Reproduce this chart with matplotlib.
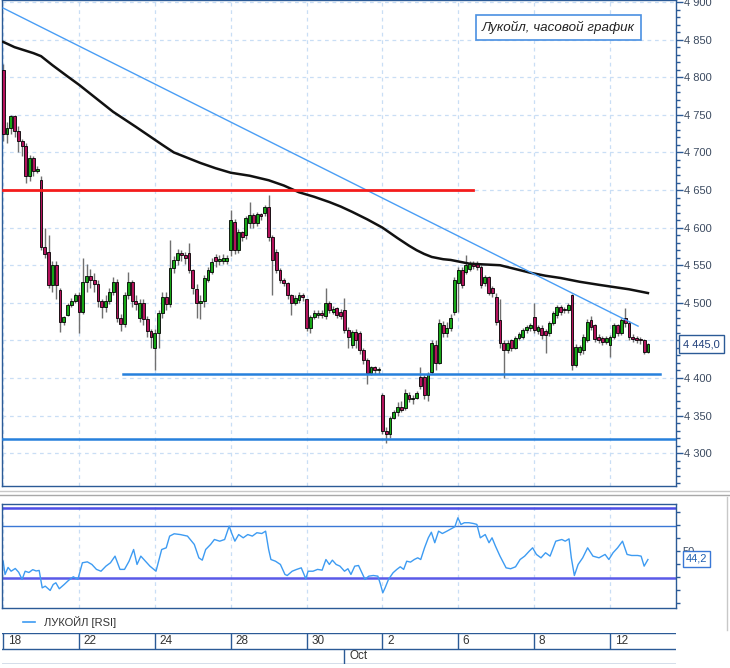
import matplotlib
matplotlib.use('Agg')
import matplotlib.pyplot as plt
from matplotlib.lines import Line2D
from matplotlib.ticker import MultipleLocator, FuncFormatter
from matplotlib.transforms import blended_transform_factory
import numpy as np

plt.rcParams['font.family'] = ['Liberation Sans', 'DejaVu Sans']

# hourly candles, 10 per trading day, index 0 = 18 Sep
opens = [4810, 4725, 4733, 4748, 4728, 4715, 4708, 4668, 4692, 4675,
         4663, 4574, 4568, 4524, 4550, 4517, 4474, 4484, 4497, 4503,
         4510, 4488, 4528, 4536, 4530, 4525, 4502, 4494, 4502, 4515,
         4528, 4480, 4472, 4510, 4528, 4502, 4480, 4500, 4478, 4462,
         4440, 4460, 4486, 4508, 4498, 4546, 4557, 4566, 4563, 4566,
         4543, 4519, 4500, 4503, 4530, 4541, 4561, 4555, 4556, 4555,
         4570, 4607, 4570, 4594, 4590, 4606, 4617, 4606, 4618, 4619,
         4627, 4587, 4568, 4543, 4530, 4526, 4510, 4500, 4504, 4510,
         4505, 4467, 4481, 4484, 4486, 4482, 4500, 4488, 4493, 4488,
         4490, 4464, 4444, 4461, 4460, 4437, 4424, 4407, 4414, 4410,
         4377, 4330, 4326, 4347, 4355, 4362, 4360, 4378, 4372, 4374,
         4402, 4401, 4377, 4408, 4444, 4420, 4470, 4460, 4467, 4488,
         4526, 4544, 4541, 4545, 4553, 4553, 4548, 4526, 4534, 4520,
         4508, 4477, 4447, 4437, 4450, 4440, 4453, 4455, 4464, 4466,
         4481, 4462, 4466, 4462, 4460, 4473, 4484, 4494, 4492, 4490,
         4510, 4417, 4434, 4437, 4450, 4477, 4470, 4455, 4453, 4448,
         4444, 4455, 4470, 4460, 4480, 4473, 4455, 4453, 4452, 4450,
         4435]
closes = [4725, 4733, 4748, 4728, 4715, 4708, 4668, 4692, 4675, 4678,
          4574, 4565, 4524, 4550, 4524, 4474, 4481, 4497, 4503, 4510,
          4488, 4528, 4536, 4530, 4525, 4502, 4494, 4502, 4515, 4528,
          4480, 4472, 4510, 4528, 4502, 4498, 4500, 4478, 4462, 4455,
          4460, 4486, 4508, 4498, 4546, 4557, 4566, 4563, 4560, 4543,
          4520, 4500, 4503, 4533, 4543, 4554, 4555, 4558, 4560, 4560,
          4610, 4570, 4594, 4587, 4613, 4617, 4606, 4618, 4615, 4627,
          4587, 4557, 4543, 4530, 4526, 4510, 4500, 4506, 4510, 4508,
          4466, 4481, 4486, 4486, 4484, 4500, 4490, 4492, 4484, 4483,
          4464, 4455, 4461, 4450, 4437, 4424, 4407, 4414, 4410, 4412,
          4330, 4326, 4347, 4355, 4362, 4358, 4380, 4372, 4374, 4380,
          4390, 4377, 4405, 4447, 4420, 4473, 4460, 4467, 4480, 4530,
          4544, 4524, 4550, 4552, 4549, 4548, 4524, 4534, 4513, 4513,
          4474, 4447, 4437, 4447, 4440, 4453, 4458, 4464, 4468, 4470,
          4464, 4468, 4457, 4457, 4473, 4486, 4494, 4488, 4490, 4497,
          4417, 4441, 4441, 4455, 4475, 4468, 4452, 4450, 4448, 4453,
          4455, 4470, 4460, 4477, 4473, 4455, 4452, 4450, 4450, 4434,
          4445]
highs = [4818, 4740, 4750, 4750, 4735, 4718, 4712, 4697, 4695, 4682,
         4668, 4600, 4590, 4555, 4555, 4520, 4482, 4500, 4506, 4513,
         4515, 4560, 4552, 4545, 4540, 4530, 4505, 4510, 4520, 4535,
         4532, 4485, 4515, 4541, 4530, 4510, 4505, 4505, 4482, 4465,
         4465, 4490, 4515, 4515, 4583, 4562, 4572, 4570, 4568, 4580,
         4545, 4525, 4510, 4537, 4548, 4560, 4565, 4563, 4565, 4563,
         4623, 4612, 4598, 4596, 4616, 4634, 4620, 4621, 4620, 4630,
         4643, 4590, 4572, 4546, 4533, 4528, 4512, 4510, 4514, 4513,
         4500, 4484, 4490, 4490, 4490, 4520, 4503, 4496, 4495, 4492,
         4506, 4468, 4464, 4465, 4462, 4440, 4427, 4416, 4416, 4414,
         4380, 4335, 4350, 4358, 4368, 4370, 4385, 4382, 4378, 4383,
         4415, 4404, 4408, 4450, 4450, 4478, 4476, 4475, 4485, 4535,
         4548, 4547, 4563, 4556, 4555, 4556, 4550, 4537, 4536, 4522,
         4513, 4505, 4450, 4450, 4452, 4456, 4461, 4466, 4471, 4473,
         4500, 4471, 4470, 4465, 4476, 4489, 4497, 4497, 4495, 4500,
         4512, 4445, 4444, 4458, 4478, 4483, 4472, 4458, 4456, 4456,
         4457, 4473, 4472, 4480, 4493, 4476, 4458, 4456, 4455, 4452,
         4447]
lows = [4715, 4712, 4725, 4720, 4700, 4695, 4660, 4662, 4668, 4672,
        4570, 4560, 4520, 4515, 4505, 4461, 4470, 4482, 4494, 4500,
        4460, 4485, 4515, 4520, 4515, 4495, 4480, 4488, 4498, 4510,
        4475, 4462, 4468, 4505, 4495, 4490, 4475, 4470, 4455, 4440,
        4410, 4440, 4480, 4490, 4495, 4540, 4550, 4555, 4552, 4540,
        4512, 4480, 4478, 4495, 4528, 4538, 4548, 4550, 4552, 4552,
        4562, 4565, 4566, 4582, 4585, 4600, 4600, 4602, 4610, 4615,
        4582, 4510, 4540, 4526, 4522, 4505, 4484, 4497, 4500, 4502,
        4462, 4460, 4478, 4480, 4480, 4478, 4486, 4485, 4480, 4478,
        4460, 4440, 4440, 4440, 4432, 4418, 4392, 4404, 4405, 4406,
        4325, 4313, 4320, 4345, 4350, 4355, 4358, 4368, 4366, 4372,
        4385, 4372, 4370, 4405, 4410, 4418, 4455, 4455, 4462, 4484,
        4488, 4520, 4538, 4542, 4545, 4544, 4520, 4522, 4510, 4508,
        4470, 4440, 4400, 4433, 4436, 4438, 4450, 4452, 4460, 4463,
        4460, 4458, 4452, 4433, 4456, 4470, 4480, 4484, 4486, 4486,
        4410, 4414, 4430, 4432, 4448, 4464, 4448, 4446, 4444, 4445,
        4428, 4452, 4456, 4457, 4468, 4450, 4448, 4446, 4445, 4432,
        4433]

# moving average (candle index, price)
ma_t = [0, 3, 8, 10, 13, 17, 20, 24, 29, 35, 42, 45, 49, 52, 56, 60, 65, 70,
        74, 78, 82, 86, 89, 92, 96, 100, 104, 107, 109, 111, 113, 116, 118, 123,
        131, 135, 139, 143, 147, 152, 157, 161, 165, 170]
ma_v = [4847, 4840, 4832, 4828, 4816, 4801, 4790, 4774, 4754, 4734, 4710, 4700, 4692, 4686,
        4679, 4673, 4669, 4663, 4656, 4647, 4641, 4634, 4628, 4621, 4611, 4600, 4586,
        4576, 4570, 4565, 4561, 4558, 4557, 4552, 4550, 4545, 4540, 4536, 4533, 4528,
        4524, 4521, 4518, 4513]

# RSI (candle index, value)
rsi_t = [0, 0.5, 1.3, 2.1, 3.2, 4.1, 5, 5.8, 6.8, 7.8, 8.7, 9.5, 10.3, 11.1, 12.4, 13.2,
         13.9, 14.8, 16.1, 17.3, 18.5, 19.7, 20.9, 22.2, 23.4, 24.6, 25.8, 27.1, 28.3, 29.5,
         30.8, 32, 33.2, 34.4, 35.3, 36.3, 37.5, 38.7, 40.3, 41.8, 43, 43.9, 45.1, 46.7, 48.6,
         50.4, 51.6, 52.5, 53.4, 54.7, 55.7, 57.1, 58.4, 59.6, 60.2, 61.1, 62.1, 63.3, 64.5,
         65.7, 66.9, 68.2, 69.2, 70, 70.6, 71.8, 73.1, 74.3, 74.9, 76.2, 77.4, 78.6, 79.8,
         80.4, 81.7, 82.9, 84.1, 85.1, 86, 86.8, 87.8, 88.8, 90, 90.9, 91.7, 92.7, 93.7,
         94.6, 95.4, 96.4, 97.6, 98.8, 99.5, 100.1, 100.7, 101.6, 102.8, 103.8, 104.7, 105.6,
         106.4, 107.4, 108.4, 109.3, 110.1, 111.1, 112.1, 112.9, 113.8, 114.8, 115.8, 117,
         118.2, 119.1, 119.9, 120.7, 121.6, 122.8, 124, 124.9, 125.8, 127.1, 128.1, 128.9,
         129.8, 131, 132.6, 133.8, 135.1, 136.3, 137.5, 138.7, 139.6, 140.6, 141.8, 143,
         144.2, 145.7, 147.3, 148.2, 149.2, 149.8, 150.6, 151.6, 152.8, 154.1, 155.5, 157.1,
         158.7, 159.7, 160.8, 162, 163.3, 164.5, 165.7, 167.3, 168.2, 169, 170]
rsi_v = [42.5, 32.3, 37.7, 34.8, 36.9, 34, 28.5, 34.8, 33.8, 36, 35, 35.4, 22, 23.3, 20, 24.6,
         25.9, 21.3, 24.6, 27.9, 30.5, 28.5, 41.3, 42, 40, 36.2, 34.8, 38.7, 41.3, 46.4,
         36.2, 36.2, 42.5, 51.5, 40, 46.4, 42.5, 38.7, 34.8, 51.5, 52.8, 61.8, 63.6, 63, 61.8,
         55.4, 45.1, 43.3, 51.5, 55.4, 59.2, 57.9, 59.2, 69.5, 64.4, 57.9, 63, 60.5, 63,
         61.8, 64.4, 63.8, 65.6, 51.5, 43.8, 42.5, 40, 32.3, 31.5, 34.8, 36.2, 37.4, 29,
         34.8, 34.8, 36.2, 35.6, 43.8, 40, 43.3, 40, 38.7, 34.8, 36.7, 32.3, 38.7, 39.2,
         33.6, 28.5, 31, 31.5, 31, 24.6, 18.2, 22, 28.5, 33.6, 36.2, 38.2, 36.2,
         42.5, 41.8, 43.8, 45.1, 43.8, 52.8, 60.5, 64.8, 56.7, 65.6, 63.8, 65.6,
         67.5, 69, 75.9, 70.8, 72.1, 72.1, 71.5, 70.8, 60.5, 63, 56.7, 60.5,
         54.1, 46.4, 37.4, 36.7, 38.2, 43.8, 46.4, 50.2, 52.8, 47.7, 45.1, 49,
         46.4, 57.9, 59.2, 57.9, 59.7, 45.1, 31.5, 40, 45.1, 52.8, 46.4, 45.1,
         47.7, 43.8, 49, 52.8, 57.9, 47.7, 46.9, 46.9, 46.4, 38.7, 43.8]

day_ticks = [0, 20, 40, 60, 80, 100, 120, 140, 160]
day_labels = ['18', '22', '24', '28', '30', '2', '6', '8', '12']
month_tick = 90
month_label = 'Oct'

red_level = 4650
support_hi = 4405
support_lo = 4319
trend_t = [0, 167.4]
trend_v = [4892, 4469]

last_price = '4 445,0'
last_rsi = 44.2

W, H = 730, 668
fig = plt.figure(figsize=(W / 100, H / 100), dpi=100)

def frac(x0, y0, x1, y1):
    return [x0 / W, 1 - y1 / H, (x1 - x0) / W, (y1 - y0) / H]

frame_col = '#2b5a96'
grid_col = '#c9def5'
txt_col = '#3b4a60'
bull_col = '#16a616'
bear_col = '#b3125c'

ax = fig.add_axes(frac(2, 0, 676, 486))
ax_rsi = fig.add_axes(frac(2, 504, 676, 608), sharex=ax)
ax_d = fig.add_axes(frac(2, 633, 676, 664), sharex=ax)

x = np.arange(len(closes))
o = np.array(opens, dtype=float)
c = np.array(closes, dtype=float)
hi = np.array(highs, dtype=float)
lo = np.array(lows, dtype=float)
up = c >= o

# main price chart
for t in day_ticks:
    ax.axvline(t, color=grid_col, lw=0.9, ls=(0, (3, 3)), zorder=0)
for p in range(4300, 4901, 50):
    ax.axhline(p, color=grid_col, lw=0.9, ls=(0, (3, 3)), zorder=0)

ax.vlines(x, lo, hi, color='#707070', lw=1.0, zorder=2)
body_bottom = np.minimum(o, c)
body_h = np.maximum(np.abs(c - o), 1.0)
ax.bar(x[up], body_h[up], bottom=body_bottom[up], width=0.75,
       color=bull_col, edgecolor='black', lw=0.6, zorder=3)
ax.bar(x[~up], body_h[~up], bottom=body_bottom[~up], width=0.75,
       color=bear_col, edgecolor='black', lw=0.6, zorder=3)

ax.plot(ma_t, ma_v, color='#111111', lw=1.8, zorder=4)
ax.plot(trend_t, trend_v, color='#4a9ef5', lw=1.0, zorder=4)
ax.plot([0, 124], [red_level, red_level], color='#f41c1c', lw=2.0, zorder=4)
ax.plot([31.6, 173.2], [support_hi, support_hi], color='#2680dc', lw=1.8, zorder=4)
ax.axhline(support_lo, color='#2680dc', lw=1.8, zorder=4)

ax.set_xlim(-0.3, 177.4)
ax.set_ylim(4256.4, 4902.7)
ax.yaxis.tick_right()
ax.yaxis.set_major_locator(MultipleLocator(50))
ax.yaxis.set_minor_locator(MultipleLocator(10))
ax.yaxis.set_major_formatter(FuncFormatter(lambda v, pos: '{:,.0f}'.format(v).replace(',', ' ')))
ax.tick_params(axis='y', which='major', length=5, width=1, color=frame_col,
               labelsize=8, labelcolor=txt_col, pad=1)
ax.tick_params(axis='y', which='minor', length=3, width=1, color=frame_col)
ax.tick_params(axis='x', bottom=False, labelbottom=False)
for s in ax.spines.values():
    s.set_color(frame_col)
    s.set_linewidth(1.0)

ax.text(0.7115, 0.9429, 'Лукойл, часовой график', transform=ax.transAxes,
        style='italic', fontsize=9.6, color='#222222', ha='left', va='center',
        bbox=dict(boxstyle='square,pad=0.45', fc='white', ec='#4a90e2', lw=1.2))

# value boxes at figure level so they sit on top of the tick labels
price_tr = blended_transform_factory(fig.transFigure, ax.transData)
fig.text(683 / W, float(closes[-1]), last_price, transform=price_tr, fontsize=8,
         color='#1f3f7a', ha='left', va='center', zorder=10,
         bbox=dict(boxstyle='square,pad=0.35', fc='white', ec='#2b5a96', lw=1.0))

# RSI panel
for t in day_ticks:
    ax_rsi.axvline(t, color=grid_col, lw=0.9, ls=(0, (3, 3)), zorder=0)
ax_rsi.axhline(83.5, color='#4d4de6', lw=1.8, zorder=1)
ax_rsi.axhline(69.5, color='#3a78d6', lw=1.0, zorder=1)
ax_rsi.axhline(29.5, color='#5a5ae8', lw=1.8, zorder=1)
ax_rsi.plot(rsi_t, rsi_v, color='#3d9bf2', lw=1.0, zorder=2)
ax_rsi.set_ylim(6.5, 86.5)
ax_rsi.yaxis.tick_right()
ax_rsi.set_yticks(range(10, 81, 10))
ax_rsi.set_yticklabels(['' if v != 50 else '50' for v in range(10, 81, 10)])
ax_rsi.tick_params(axis='y', length=3, width=1, color=frame_col, labelsize=8,
                   labelcolor=txt_col, pad=2)
ax_rsi.tick_params(axis='x', bottom=False, labelbottom=False)
for s in ax_rsi.spines.values():
    s.set_color(frame_col)
    s.set_linewidth(1.0)
rsi_tr = blended_transform_factory(fig.transFigure, ax_rsi.transData)
fig.text(686 / W, last_rsi, '{:.1f}'.format(last_rsi).replace('.', ','), transform=rsi_tr,
         fontsize=8, color='#1f5fb0', ha='left', va='center', zorder=10,
         bbox=dict(boxstyle='square,pad=0.25', fc='white', ec='#3a78d6', lw=1.0))

fig.add_artist(Line2D([23 / W, 35 / W], [1 - 622 / H, 1 - 622 / H], color='#3d9bf2', lw=1.2))
fig.text(44 / W, 1 - 622 / H, 'ЛУКОЙЛ [RSI]', fontsize=8, color='#333333', va='center')

# date strip
ax_d.set_ylim(0, 2)
ax_d.axhline(2, color=frame_col, lw=1.0)
ax_d.axhline(1, color=frame_col, lw=1.0)
ax_d.axhline(0, color=frame_col, lw=1.0)
ax_d.vlines(day_ticks, 1, 2, color=frame_col, lw=1.0)
ax_d.vlines([month_tick], 0, 1, color=frame_col, lw=1.0)
for t, lab in zip(day_ticks, day_labels):
    ax_d.text(t + 1.2, 1.5, lab, fontsize=8.5, color='#333333', va='center', ha='left')
ax_d.text(month_tick + 1.2, 0.5, month_label, fontsize=8.5, color='#333333', va='center', ha='left')
ax_d.axis('off')

# panel separators
for yy, col in [(491, '#c8c8c8'), (495, '#a8a8a8')]:
    fig.add_artist(Line2D([0, 1], [1 - yy / H, 1 - yy / H], color=col, lw=1.0))
fig.add_artist(Line2D([727 / W, 727 / W], [1 - 630 / H, 1 - 497 / H], color='#c8c8c8', lw=1.0))

fig.savefig('out.png', dpi=100)
